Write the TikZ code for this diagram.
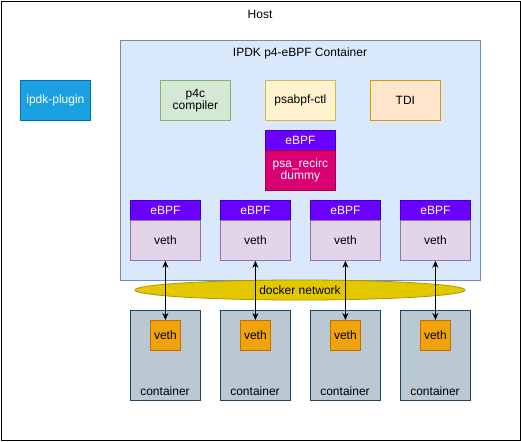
\documentclass[tikz,border=0pt]{standalone}
\usepackage{fontspec}
\setmainfont{Liberation Sans}
\usetikzlibrary{arrows.meta,shapes.geometric}
\definecolor{hostline}{HTML}{000000}
\definecolor{ctfill}{HTML}{DAE8FC}\definecolor{ctline}{HTML}{6C8EBF}
\definecolor{plfill}{HTML}{1BA1E2}\definecolor{plline}{HTML}{006EAF}
\definecolor{gfill}{HTML}{D5E8D4}\definecolor{gline}{HTML}{82B366}
\definecolor{yfill}{HTML}{FFF2CC}\definecolor{yline}{HTML}{D6B656}
\definecolor{ofill}{HTML}{FFE6CC}\definecolor{oline}{HTML}{D79B00}
\definecolor{efill}{HTML}{6A00FF}\definecolor{eline}{HTML}{3700CC}
\definecolor{rfill}{HTML}{D80073}\definecolor{rline}{HTML}{A50040}
\definecolor{vfill}{HTML}{E1D5E7}\definecolor{vline}{HTML}{9673A6}
\definecolor{dfill}{HTML}{E3C800}\definecolor{dline}{HTML}{B09500}
\definecolor{cfill}{HTML}{BAC8D3}\definecolor{cline}{HTML}{23445D}
\definecolor{tfill}{HTML}{F0A30A}\definecolor{tline}{HTML}{BD7000}
\begin{document}
\begin{tikzpicture}[x=1pt,y=-1pt,
  txt/.style={font=\fontsize{12}{14}\selectfont},
  box/.style={txt,draw,line width=0.8pt,minimum width=70pt,minimum height=40pt,inner sep=0pt,align=center,anchor=north west},
  ebox/.style={box,fill=efill,draw=eline,text=white,minimum height=20pt},
  vethbox/.style={box,fill=vfill,draw=vline},
  ctbox/.style={box,fill=cfill,draw=cline,minimum height=90pt},
  ivbox/.style={box,fill=tfill,draw=tline,minimum width=30pt,minimum height=30pt},
  link/.style={line width=0.8pt,{Stealth[length=7pt,width=6pt]}-{Stealth[length=7pt,width=6pt]}}]
\useasboundingbox (0,0) rectangle (521,441);
\node[draw=hostline,line width=1.5pt,minimum width=519pt,minimum height=439pt,anchor=north west,inner sep=0pt] (host) at (0.75,0.75) {};
\node[txt] (hostlbl) at (260,14) {Host};
\node[draw=ctline,fill=ctfill,line width=0.8pt,minimum width=360pt,minimum height=240pt,anchor=north west,inner sep=0pt] (ct) at (120,40) {};
\node[txt] (ctlbl) at (300,53) {IPDK p4-eBPF Container};
\node[box,fill=plfill,draw=plline,text=white] (plugin) at (20,80) {ipdk-plugin};
\node[box,fill=gfill,draw=gline] (p4c) at (160,80) {p4c\\[-2pt]compiler};
\node[box,fill=yfill,draw=yline] (ctl) at (265,80) {psabpf-ctl};
\node[box,fill=ofill,draw=oline] (tdi) at (370,80) {TDI};
\node[ebox] (e0) at (265,130) {eBPF};
\node[box,fill=rfill,draw=rline,text=white] (recirc) at (265,150) {psa\_recirc\\[-2pt]dummy};
\node[ellipse,draw=dline,fill=dfill,line width=0.8pt,minimum width=330pt,minimum height=20pt,inner sep=0pt,txt] (dn) at (300,290) {docker network};
\foreach \i/\x in {1/130,2/220,3/310,4/400}{
  \node[ebox] (e\i) at (\x,200) {eBPF};
  \node[vethbox] (v\i) at (\x,220) {veth};
  \node[ctbox] (c\i) at (\x,310) {};
  \node[txt,anchor=base] (cl\i) at (\x+35,395) {container};
  \node[ivbox] (iv\i) at (\x+20,320) {veth};
  \draw[link] (v\i.south) -- (iv\i.north);
}
\end{tikzpicture}
\end{document}
